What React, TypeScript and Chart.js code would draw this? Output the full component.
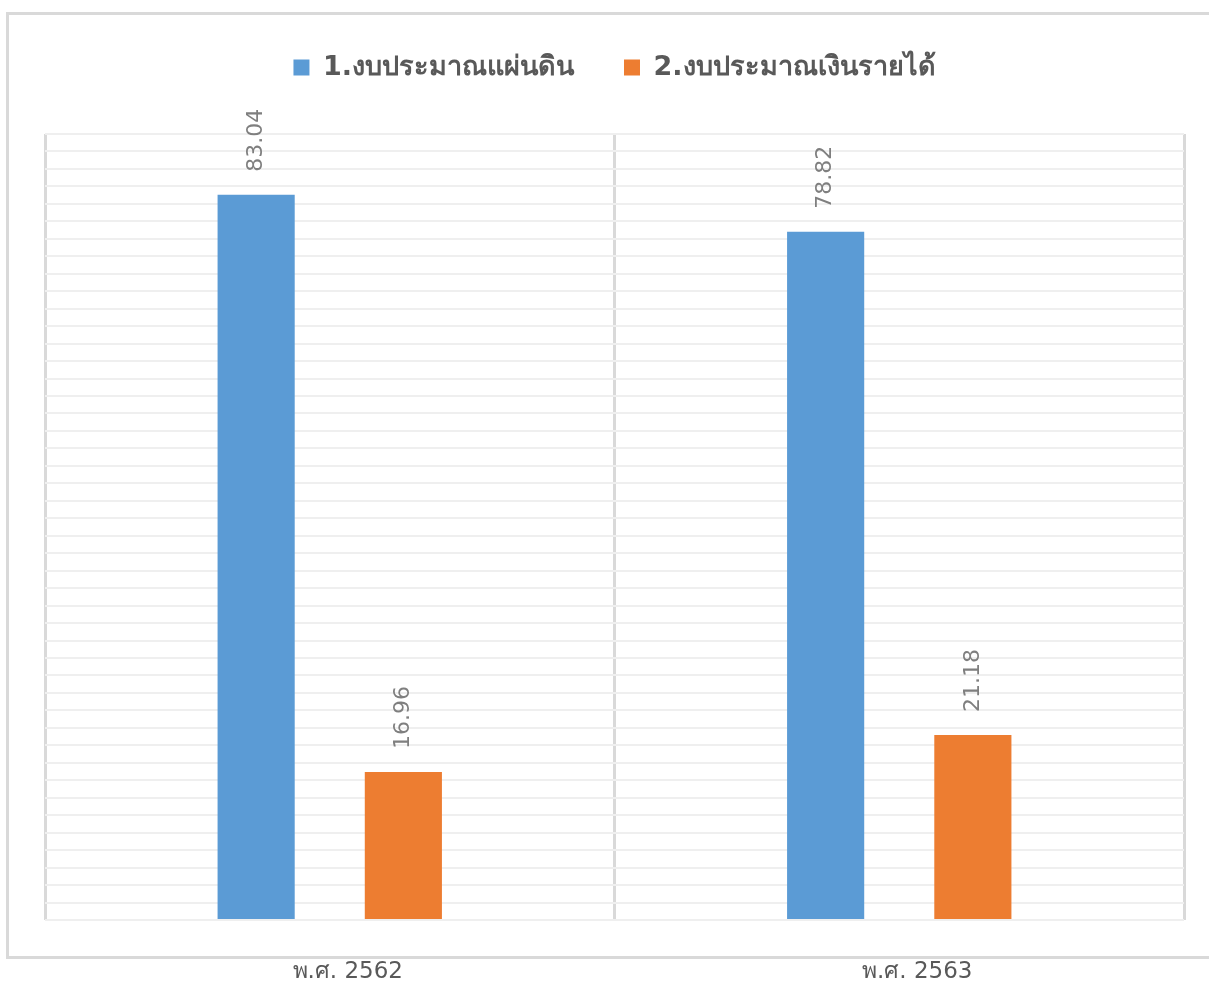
import React, { useEffect, useRef } from "react";
import { Chart, registerables } from "chart.js";

Chart.register(...registerables);

const categories = ["พ.ศ. 2562", "พ.ศ. 2563"];
const seriesNames = ["1.งบประมาณแผ่นดิน", "2.งบประมาณเงินรายได้"];
const landBudget = [83.04, 78.82];
const incomeBudget = [16.96, 21.18];
const seriesColors = ["#5b9bd5", "#ed7d31"];

const FONT = "Tahoma, 'DejaVu Sans', 'Noto Sans', sans-serif";

const framePlugin = {
  id: "frame",
  beforeDraw(chart: any) {
    const ctx = chart.ctx;
    const w = chart.width;
    ctx.save();
    ctx.strokeStyle = "#d9d9d9";
    ctx.lineWidth = 3;
    ctx.beginPath();
    ctx.moveTo(w, 13.5);
    ctx.lineTo(7.5, 13.5);
    ctx.lineTo(7.5, 957.5);
    ctx.lineTo(w, 957.5);
    ctx.stroke();
    ctx.restore();
  },
};

const legendSpacePlugin = {
  id: "legendSpace",
  beforeInit(chart: any) {
    const legend = chart.legend;
    if (!legend) return;
    const origFit = legend.fit;
    legend.fit = function () {
      origFit.bind(legend)();
      this.height += 43;
    };
  },
};

const valueLabelPlugin = {
  id: "valueLabels",
  afterDatasetsDraw(chart: any) {
    const ctx = chart.ctx;
    ctx.save();
    ctx.fillStyle = "#7f7f7f";
    ctx.font = `22px ${FONT}`;
    chart.data.datasets.forEach((ds: any, di: number) => {
      const meta = chart.getDatasetMeta(di);
      meta.data.forEach((bar: any, i: number) => {
        ctx.save();
        ctx.translate(bar.x, bar.y - 23);
        ctx.rotate(-Math.PI / 2);
        ctx.textAlign = "left";
        ctx.textBaseline = "middle";
        ctx.fillText(ds.data[i].toFixed(2), 0, 0);
        ctx.restore();
      });
    });
    ctx.restore();
  },
};

const categoryLabelPlugin = {
  id: "categoryLabels",
  afterDraw(chart: any) {
    const ctx = chart.ctx;
    const xs = chart.scales.x;
    ctx.save();
    ctx.fillStyle = "#595959";
    ctx.font = `23px ${FONT}`;
    ctx.textAlign = "center";
    ctx.textBaseline = "middle";
    categories.forEach((c, i) => {
      ctx.fillText(c, xs.getPixelForTick(i) + 18, chart.chartArea.bottom + 52);
    });
    ctx.restore();
  },
};

export default function App() {
  const ref = useRef<HTMLCanvasElement>(null);
  useEffect(() => {
    document.body.style.margin = "0";
    const chart = new Chart(ref.current!, {
      type: "bar",
      data: {
        labels: categories,
        datasets: [
          {
            label: seriesNames[0],
            data: landBudget,
            backgroundColor: seriesColors[0],
            categoryPercentage: 0.517,
            barPercentage: 0.524,
          },
          {
            label: seriesNames[1],
            data: incomeBudget,
            backgroundColor: seriesColors[1],
            categoryPercentage: 0.517,
            barPercentage: 0.524,
          },
        ],
      },
      options: {
        animation: false,
        responsive: false,
        devicePixelRatio: 1,
        layout: { padding: { top: 4, left: 45, right: 25, bottom: 62 } },
        plugins: {
          tooltip: { enabled: false },
          legend: {
            position: "top",
            labels: {
              boxWidth: 16,
              boxHeight: 16,
              padding: 50,
              color: "#595959",
              font: { family: FONT, size: 27, weight: "bold" },
            },
          },
        },
        scales: {
          x: {
            grid: { display: true, offset: true, color: "#d9d9d9", lineWidth: 3, drawTicks: false },
            border: { display: false },
            ticks: { display: false },
          },
          y: {
            min: 0,
            max: 90,
            ticks: { display: false, stepSize: 2 },
            grid: { color: "#efefef", lineWidth: 2, drawTicks: false },
            border: { display: false },
          },
        },
      },
      plugins: [legendSpacePlugin, framePlugin, valueLabelPlugin, categoryLabelPlugin],
    });
    return () => chart.destroy();
  }, []);
  return (
    <div style={{ position: "absolute", left: 0, top: 0, width: 1209, height: 982, background: "#fff" }}>
      <canvas ref={ref} width={1209} height={982} style={{ width: 1209, height: 982 }} />
    </div>
  );
}
